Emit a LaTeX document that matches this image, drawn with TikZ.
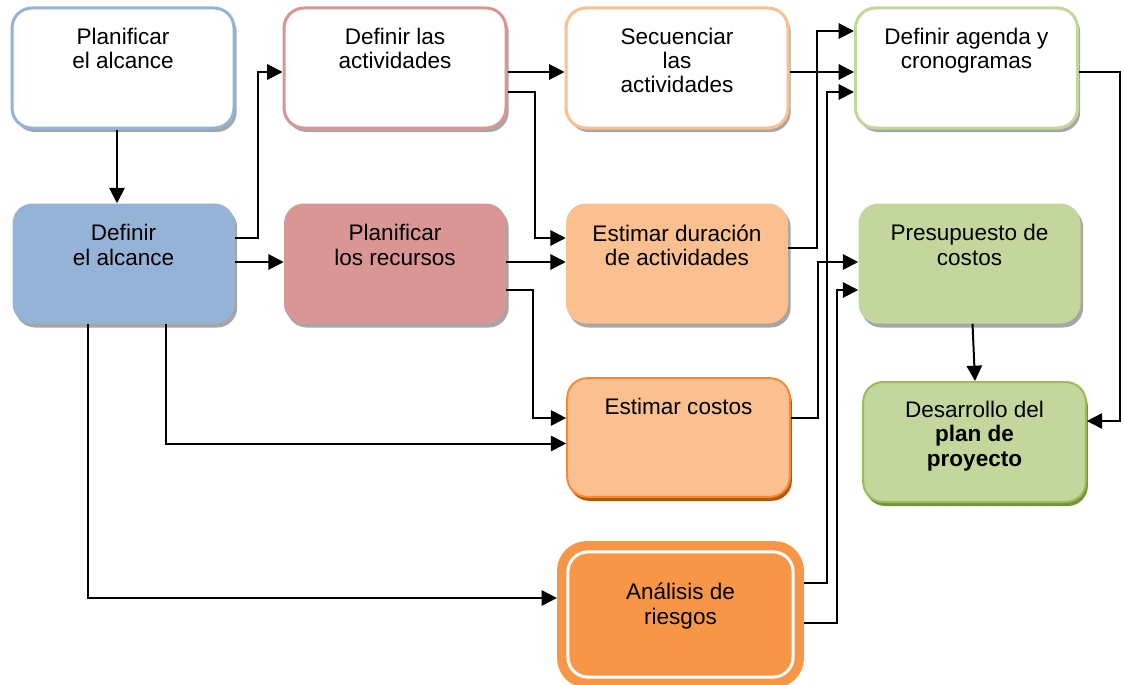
\documentclass[tikz,border=0pt]{standalone}
\usepackage{fontspec}
\setmainfont{Liberation Sans}
\usetikzlibrary{arrows.meta,calc,shadows}

\definecolor{blueA}{HTML}{95B3D7}
\definecolor{redA}{HTML}{D99694}
\definecolor{orangeA}{HTML}{FAC090}
\definecolor{orangeB}{HTML}{F79646}
\definecolor{orangeEdge}{HTML}{F38A34}
\definecolor{orangeShadow}{HTML}{B65708}
\definecolor{greenA}{HTML}{C3D69B}
\definecolor{greenEdge}{HTML}{9BBB59}
\definecolor{greenShadow}{HTML}{76923C}

\tikzset{
  box/.style={rectangle, rounded corners=15pt, minimum width=166.5pt,
    minimum height=90pt, inner sep=0pt},
  soft shadow/.style={drop shadow={shadow xshift=2pt, shadow yshift=-3pt,
    fill=black, opacity=0.35}},
  solid shadow/.style={drop shadow={shadow xshift=1.5pt, shadow yshift=-3pt,
    fill=#1, opacity=1}},
  outline box/.style={box, fill=white, draw=#1, line width=2.25pt, soft shadow},
  filled box/.style={box, fill=#1, soft shadow},
  boxtext/.style={anchor=north, inner sep=0pt, align=center,
    font=\fontsize{16.9}{18.2}\selectfont},
  arr/.style={line width=1.5pt, -{Triangle[length=11.5pt, width=11.5pt]}},
}

\begin{document}
\begin{tikzpicture}[x=0.75pt, y=-0.75pt]
\useasboundingbox (0,0) rectangle (1124,685);

% top row: outlined boxes
\node[outline box=blueA]  (b1) at (123,68) {};
\node[outline box=redA]   (b2) at (395,68) {};
\node[outline box=orangeA] (b3) at (677,68) {};
\node[outline box=greenA] (b4) at (966.5,68) {};

% second row: filled boxes
\node[filled box=blueA]   (b5) at (123.5,263.5) {};
\node[filled box=redA]    (b6) at (395,263.5) {};
\node[filled box=orangeA] (b7) at (677,263.5) {};
\node[filled box=greenA]  (b8) at (969.5,263.5) {};

% estimated costs and plan development
\node[box, fill=orangeA, draw=orangeEdge, line width=1.5pt,
  solid shadow=orangeShadow, minimum width=167pt, minimum height=89pt] (b9) at (678.5,437.5) {};
\node[box, fill=greenA, draw=greenEdge, line width=1.5pt,
  solid shadow=greenShadow, minimum width=167pt] (b10) at (974.5,442) {};

% risk analysis box with inner white outline
\node[box, fill=orangeB, rounded corners=22pt, minimum width=185pt,
  minimum height=110pt] (b11) at (680.5,614.5) {};
\draw[white, line width=2.25pt, rounded corners=15pt]
  ($(b11.north west)+(11,11)$) rectangle ($(b11.south east)+(-11,-11)$);

% texts
\node[boxtext] (t1)  at ($(b1.north)+(0,21)$) {Planificar\\el alcance};
\node[boxtext] (t2)  at ($(b2.north)+(0,21)$) {Definir las\\actividades};
\node[boxtext] (t3)  at ($(b3.north)+(0,21)$) {Secuenciar\\las\\actividades};
\node[boxtext] (t4)  at ($(b4.north)+(0,21)$) {Definir agenda y\\cronogramas};
\node[boxtext] (t5)  at ($(b5.north)+(0,21)$) {Definir\\el alcance};
\node[boxtext] (t6)  at ($(b6.north)+(0,21)$) {Planificar\\los recursos};
\node[boxtext] (t7)  at ($(b7.north)+(0,21)$) {Estimar duración\\de actividades};
\node[boxtext] (t8)  at ($(b8.north)+(0,21)$) {Presupuesto de\\costos};
\node[boxtext] (t9)  at ($(b9.north)+(0,21)$) {Estimar costos};
\node[boxtext] (t10) at ($(b10.north)+(0,20)$) {Desarrollo del\\\textbf{plan de}\\\textbf{proyecto}};
\node[boxtext] (t11) at ($(b11.north)+(0,42)$) {Análisis de\\riesgos};

% connectors
\draw[arr] ($(b1.south)+(-6,0)$) -- ($(b5.north)+(-6.5,0)$);
\draw[arr] ($(b5.east)+(0,-25.5)$) -- ++(23,0) |- ($(b2.west)+(0,4)$);
\draw[arr] ($(b5.east)+(0,-1.5)$) -- ($(b6.west)+(0,-1.5)$);
\draw[arr] ($(b5.south)+(42.5,0)$) |- ($(b9.west)+(0,6)$);
\draw[arr] ($(b5.south)+(-35.5,0)$) |- ($(b11.west)+(0,-16.5)$);
\draw[arr] ($(b2.east)+(0,4)$) -- ($(b3.west)+(0,4)$);
\draw[arr] ($(b2.east)+(0,24)$) -- ++(27,0) |- ($(b7.west)+(0,-25.5)$);
\draw[arr] ($(b6.east)+(0,-1.5)$) -- ($(b7.west)+(0,-1.5)$);
\draw[arr] ($(b6.east)+(0,26.5)$) -- ++(27,0) |- ($(b9.west)+(0,-19.5)$);
\draw[arr] ($(b3.east)+(0,4)$) -- ($(b4.west)+(0,4)$);
\draw[arr] ($(b7.east)+(0,-15.5)$) -- ++(29,0) |- ($(b4.west)+(0,-37)$);
\draw[arr] ($(b11.east)+(0,-31.5)$) -- ++(23,0) |- ($(b4.west)+(0,24)$);
\draw[arr] ($(b9.east)+(0,-19.5)$) -- ++(27,0) |- ($(b8.west)+(0,-1.5)$);
\draw[arr] ($(b11.east)+(0,8.5)$) -- ++(33,0) |- ($(b8.west)+(0,26.5)$);
\draw[arr] ($(b8.south)+(3,0)$) -- ($(b10.north)+(0.5,0)$);
\draw[arr] ($(b4.east)+(0,4)$) -- ++(41,0) |- ($(b10.east)+(0,-21)$);
\end{tikzpicture}
\end{document}
